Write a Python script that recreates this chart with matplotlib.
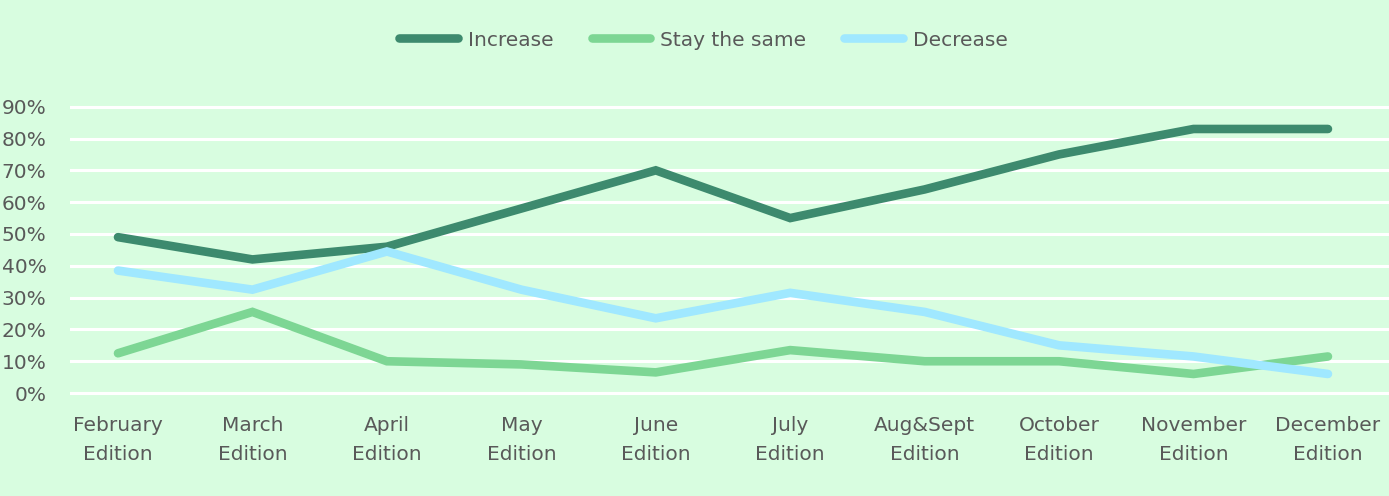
import matplotlib
matplotlib.use("Agg")
import matplotlib.pyplot as plt

categories = ["February\nEdition", "March\nEdition", "April\nEdition", "May\nEdition", "June\nEdition",
              "July\nEdition", "Aug&Sept\nEdition", "October\nEdition", "November\nEdition", "December\nEdition"]
increase = [49, 42, 46, 58, 70, 55, 64, 75, 83, 83]
stay_same = [12.5, 25.5, 10, 9, 6.5, 13.5, 10, 10, 6, 11.5]
decrease = [38.5, 32.5, 44.5, 32.5, 23.5, 31.5, 25.5, 15, 11.5, 6]
yticks = [0, 10, 20, 30, 40, 50, 60, 70, 80, 90]
ytick_labels = [f"{v}%" for v in yticks]

plt.rcParams['font.family'] = ['DejaVu Sans']

bg = "#d8fde0"
txt = "#595959"
fig = plt.figure(figsize=(13.89, 4.96), dpi=100, facecolor=bg)
ax = fig.add_axes([70/1389, 0.1947, 1 - 70/1389, 0.7977 - 0.1947])
ax.set_facecolor(bg)

x = list(range(len(categories)))
ax.plot(x, increase, color="#3d8a6e", lw=6.2, solid_capstyle="round", solid_joinstyle="miter", label="Increase", zorder=3)
ax.plot(x, stay_same, color="#7dd694", lw=6.2, solid_capstyle="round", solid_joinstyle="miter", label="Stay the same", zorder=3)
ax.plot(x, decrease, color="#a0e8ff", lw=6.2, solid_capstyle="round", solid_joinstyle="miter", label="Decrease", zorder=3)

ax.set_ylim(-2, 92)
ax.set_xlim(-0.357, 9.454)
ax.set_yticks(yticks)
ax.set_yticklabels(ytick_labels)
ax.set_xticks(x)
ax.set_xticklabels(categories, linespacing=1.65)
for s in ax.spines.values():
    s.set_visible(False)
ax.tick_params(axis="both", length=0, colors=txt, labelsize=14.5)
ax.tick_params(axis="y", pad=17)
ax.tick_params(axis="x", pad=12)
for v in yticks:
    ax.axhline(v, color="white", lw=2.2, zorder=1)

leg = fig.legend(loc="center", bbox_to_anchor=(0.5065, 1 - 40/496), ncol=3, frameon=False,
                 fontsize=14.5, handlelength=2.9, handletextpad=0.5, columnspacing=1.9, labelcolor=txt)
for h in leg.legend_handles:
    h.set_solid_capstyle("round")

fig.savefig("out.png", dpi=100, facecolor=bg)
